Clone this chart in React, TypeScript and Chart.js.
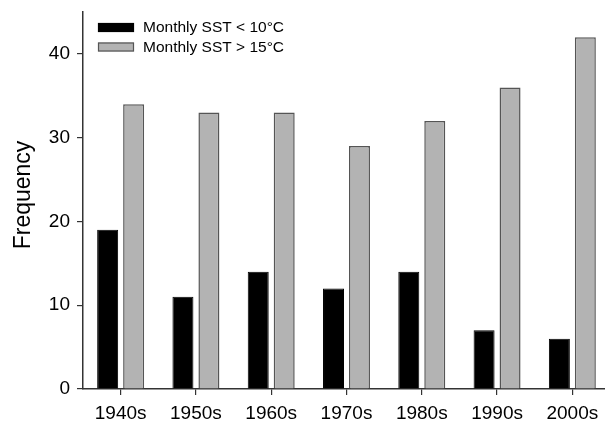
import React, { useEffect, useRef } from "react";
import { Chart, registerables } from "chart.js";

Chart.register(...registerables);

const categories = ["1940s", "1950s", "1960s", "1970s", "1980s", "1990s", "2000s"];
const coldLabel = "Monthly SST < 10°C";
const warmLabel = "Monthly SST > 15°C";
const coldValues = [19, 11, 14, 12, 14, 7, 6];
const warmValues = [34, 33, 33, 29, 32, 36, 42];
const yTicks = [0, 10, 20, 30, 40];
const yTitle = "Frequency";

const FONT = "'Liberation Sans', Arial, Helvetica, sans-serif";

const legendPlugin = {
  id: "insideLegend",
  afterDatasetsDraw(chart: any) {
    const ctx = chart.ctx;
    ctx.save();
    const items = chart.data.datasets;
    items.forEach((ds: any, i: number) => {
      const y = 23 + i * 19.5;
      ctx.fillStyle = ds.backgroundColor;
      ctx.fillRect(98, y, 36, 9);
      ctx.lineWidth = 1.2;
      ctx.strokeStyle = ds.borderColor;
      ctx.strokeRect(98.5, y + 0.5, 35, 8);
      ctx.fillStyle = "#000";
      ctx.font = `15.5px ${FONT}`;
      ctx.textBaseline = "middle";
      ctx.textAlign = "left";
      ctx.fillText(ds.label, 143, y + 5);
    });
    // y axis title
    ctx.translate(24, 195);
    ctx.rotate(-Math.PI / 2);
    ctx.font = `23px ${FONT}`;
    ctx.fillStyle = "#000";
    ctx.textAlign = "center";
    ctx.textBaseline = "middle";
    ctx.fillText(yTitle, 0, 0);
    ctx.restore();
  },
};

export default function App() {
  const ref = useRef<HTMLCanvasElement | null>(null);
  useEffect(() => {
    if (!ref.current) return;
    const chart = new Chart(ref.current, {
      type: "bar",
      data: {
        labels: categories,
        datasets: [
          {
            label: coldLabel,
            data: coldValues,
            backgroundColor: "#000000",
            borderColor: "#000000",
            borderWidth: 1,
            categoryPercentage: 0.69,
            barPercentage: 0.808,
          },
          {
            label: warmLabel,
            data: warmValues,
            backgroundColor: "#b3b3b3",
            borderColor: "#555555",
            borderWidth: 1.5,
            categoryPercentage: 0.69,
            barPercentage: 0.808,
          },
        ],
      },
      options: {
        animation: false,
        responsive: false,
        maintainAspectRatio: false,
        layout: { padding: { left: 0, right: 4, top: 12, bottom: 0 } },
        plugins: {
          legend: { display: false },
          tooltip: { enabled: false },
          title: { display: false },
        },
        scales: {
          x: {
            grid: {
              offset: false,
              drawOnChartArea: false,
              drawTicks: true,
              tickLength: 6,
              color: "#333",
              lineWidth: 1.2,
            },
            border: { display: true, color: "#333", width: 1.5 },
            ticks: {
              color: "#000",
              font: { family: FONT, size: 19 },
              padding: 7,
              maxRotation: 0,
            },
            afterFit(scale: any) {
              scale.height = 32;
              scale.paddingLeft = 0;
              scale.paddingRight = 0;
            },
          },
          y: {
            min: 0,
            max: 45,
            afterBuildTicks(scale: any) {
              scale.ticks = yTicks.map((v) => ({ value: v }));
            },
            grid: {
              drawOnChartArea: false,
              drawTicks: true,
              tickLength: 6,
              color: "#333",
              lineWidth: 1.2,
            },
            border: { display: true, color: "#333", width: 1.5 },
            ticks: {
              color: "#000",
              font: { family: FONT, size: 19 },
              padding: 7,
            },
            afterFit(scale: any) {
              scale.width = 83;
              scale.paddingTop = 0;
              scale.paddingBottom = 0;
            },
          },
        },
      },
      plugins: [legendPlugin],
    });
    return () => chart.destroy();
  }, []);
  return (
    <div
      style={{
        position: "fixed",
        left: 0,
        top: 0,
        width: 605,
        height: 421,
        overflow: "hidden",
        background: "#fff",
      }}
    >
      <canvas ref={ref} width={614} height={421} style={{ display: "block", width: 614, height: 421 }} />
    </div>
  );
}
